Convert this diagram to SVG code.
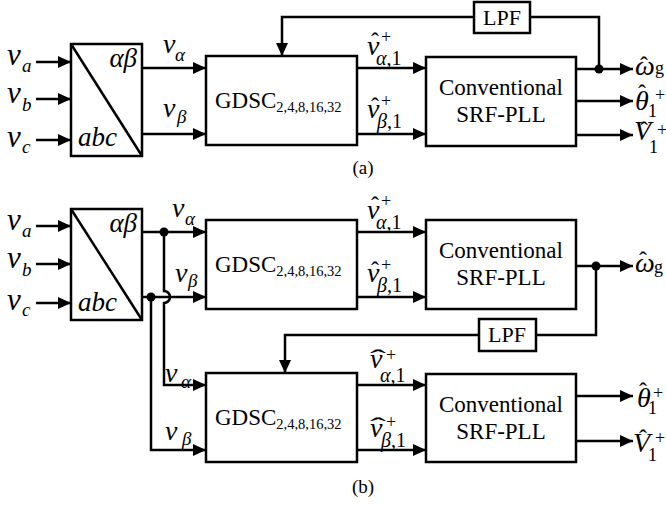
<svg xmlns="http://www.w3.org/2000/svg" width="666" height="505" viewBox="0 0 666 505">
<style>
text{font-family:"Liberation Serif","Times New Roman","DejaVu Serif",serif}
.box{fill:#fff;stroke:#000;stroke-width:2.5}
.ln{fill:none;stroke:#000;stroke-width:2.5}
.ar{fill:none;stroke:#000;stroke-width:2.5;marker-end:url(#ah)}
.it{font-style:italic}
.rm{font-style:normal}
.hat{font-size:24px;text-anchor:middle;font-style:normal}
.mid{text-anchor:middle}
</style>
<defs>
<marker id="ah" markerUnits="userSpaceOnUse" markerWidth="14" markerHeight="12" refX="13" refY="6" orient="auto">
<path d="M0,0 L13,6 L0,12 z" fill="#000"/>
</marker>
</defs>

<g id="connectors">
<path class="ar" d="M36,62 H71"/>
<path class="ar" d="M36,99 H71"/>
<path class="ar" d="M36,140 H71"/>
<path class="ar" d="M142,68 H206"/>
<path class="ar" d="M142,134 H206"/>
<path class="ar" d="M357,68 H426"/>
<path class="ar" d="M357,134 H426"/>
<path class="ar" d="M576,69 H633"/>
<path class="ar" d="M576,101 H633"/>
<path class="ar" d="M576,135 H633"/>
<path class="ln" d="M599,69 V17 H530"/>
<path class="ar" d="M474,17 H282 V56"/>
<circle cx="599" cy="69" r="4.5"/>
<path class="ar" d="M36,226 H71"/>
<path class="ar" d="M36,264 H71"/>
<path class="ar" d="M36,303 H71"/>
<path class="ar" d="M142,232 H206"/>
<path class="ar" d="M142,297 H206"/>
<path class="ar" d="M164,232 V291 A6,6 0 0 1 164,303 V385 H206"/>
<path class="ar" d="M151,297 V450 H206"/>
<circle cx="164" cy="232" r="4.5"/>
<circle cx="151" cy="297" r="4.5"/>
<path class="ar" d="M357,232 H426"/>
<path class="ar" d="M357,297 H426"/>
<path class="ar" d="M576,266 H633"/>
<circle cx="596" cy="266" r="4.5"/>
<path class="ln" d="M596,266 V335 H536"/>
<path class="ar" d="M479,335 H285 V373"/>
<path class="ar" d="M357,385 H426"/>
<path class="ar" d="M357,450 H426"/>
<path class="ar" d="M576,396 H633"/>
<path class="ar" d="M576,441 H633"/>
</g>

<g id="inputs-a">
<text class="it" x="7" y="65" font-size="31">v</text><text class="it" x="22" y="72" font-size="19">a</text>
<text class="it" x="7" y="103" font-size="31">v</text><text class="it" x="22" y="111" font-size="19">b</text>
<text class="it" x="7" y="147" font-size="31">v</text><text class="it" x="22" y="153" font-size="19">c</text>
</g>
<g id="transform-a">
<rect class="box" x="71" y="44" width="71" height="112"/>
<path class="ln" d="M71,44 L142,156"/>
<text class="it" x="137" y="67" font-size="27" text-anchor="end">αβ</text>
<text class="it" x="78" y="146" font-size="27">abc</text>
</g>
<g id="labels-a-in">
<text class="it" x="163" y="53" font-size="28">v</text><text class="it" x="175" y="61" font-size="19">α</text>
<text class="it" x="163" y="117" font-size="28">v</text><text class="it" x="177" y="123" font-size="19">β</text>
</g>
<g id="gdsc-a">
<rect class="box" x="206" y="56" width="151" height="89"/>
<text class="rm" x="215" y="108" font-size="23">GDSC<tspan font-size="14.5" dy="4">2,4,8,16,32</tspan></text>
</g>
<g id="labels-a-out">
<text class="it" x="367" y="55" font-size="28">v</text><text class="hat" x="375" y="49">ˆ</text>
<text class="rm" x="381" y="43" font-size="18">+</text>
<text class="it" x="376" y="65" font-size="20">α<tspan class="rm">,1</tspan></text>
<text class="it" x="367" y="118" font-size="28">v</text><text class="hat" x="375" y="114">ˆ</text>
<text class="rm" x="381" y="107" font-size="18">+</text>
<text class="it" x="377" y="128" font-size="20">β<tspan class="rm">,1</tspan></text>
</g>
<g id="pll-a">
<rect class="box" x="426" y="57" width="150" height="89"/>
<text class="rm mid" x="501" y="95" font-size="23">Conventional</text>
<text class="rm mid" x="501" y="122" font-size="23">SRF-PLL</text>
</g>
<g id="lpf-a">
<rect class="box" x="474" y="2" width="56" height="31"/>
<text class="rm mid" x="502" y="25" font-size="22">LPF</text>
</g>
<g id="outputs-a">
<text class="it" x="635" y="75" font-size="28">ω</text><text class="hat" x="644" y="73">ˆ</text>
<text class="rm" x="655" y="74" font-size="18">g</text>
<text class="it" x="635" y="110" font-size="28">θ</text><text class="hat" x="642" y="101">ˆ</text>
<text class="rm" x="655" y="101" font-size="18">+</text>
<text class="rm" x="648" y="117" font-size="18">1</text>
<text class="it" x="634" y="140" font-size="28">V</text><text class="hat" x="644" y="138">ˆ</text>
<text class="rm" x="657" y="136" font-size="18">+</text>
<text class="rm" x="649" y="153" font-size="18">1</text>
</g>
<text class="rm mid" x="363" y="174" font-size="19">(a)</text>

<g id="inputs-b">
<text class="it" x="7" y="230" font-size="31">v</text><text class="it" x="22" y="237" font-size="19">a</text>
<text class="it" x="7" y="268" font-size="31">v</text><text class="it" x="22" y="276" font-size="19">b</text>
<text class="it" x="7" y="310" font-size="31">v</text><text class="it" x="22" y="316" font-size="19">c</text>
</g>
<g id="transform-b">
<rect class="box" x="71" y="209" width="71" height="111"/>
<path class="ln" d="M71,209 L142,320"/>
<text class="it" x="137" y="232" font-size="27" text-anchor="end">αβ</text>
<text class="it" x="78" y="311" font-size="27">abc</text>
</g>
<g id="labels-b-in">
<text class="it" x="172" y="217" font-size="28">v</text><text class="it" x="185" y="225" font-size="19">α</text>
<text class="it" x="175" y="282" font-size="28">v</text><text class="it" x="188" y="287" font-size="19">β</text>
<text class="it" x="165" y="382" font-size="28">v</text><text class="it" x="181" y="388" font-size="19">α</text>
<text class="it" x="165" y="440" font-size="28">v</text><text class="it" x="182" y="445" font-size="19">β</text>
</g>
<g id="gdsc-b1">
<rect class="box" x="206" y="220" width="151" height="89"/>
<text class="rm" x="215" y="272" font-size="23">GDSC<tspan font-size="14.5" dy="4">2,4,8,16,32</tspan></text>
</g>
<g id="labels-b1-out">
<text class="it" x="367" y="219" font-size="28">v</text><text class="hat" x="375" y="213">ˆ</text>
<text class="rm" x="381" y="207" font-size="18">+</text>
<text class="it" x="376" y="229" font-size="20">α<tspan class="rm">,1</tspan></text>
<text class="it" x="367" y="282" font-size="28">v</text><text class="hat" x="375" y="278">ˆ</text>
<text class="rm" x="381" y="271" font-size="18">+</text>
<text class="it" x="377" y="292" font-size="20">β<tspan class="rm">,1</tspan></text>
</g>
<g id="pll-b1">
<rect class="box" x="426" y="220" width="150" height="89"/>
<text class="rm mid" x="501" y="258" font-size="23">Conventional</text>
<text class="rm mid" x="501" y="285" font-size="23">SRF-PLL</text>
</g>
<g id="outputs-b1">
<text class="it" x="635" y="272" font-size="28">ω</text><text class="hat" x="643" y="268">ˆ</text>
<text class="rm" x="654" y="273" font-size="18">g</text>
</g>
<g id="lpf-b">
<rect class="box" x="479" y="319" width="57" height="32"/>
<text class="rm mid" x="507" y="342" font-size="22">LPF</text>
</g>
<g id="gdsc-b2">
<rect class="box" x="206" y="373" width="151" height="89"/>
<text class="rm" x="215" y="425" font-size="23">GDSC<tspan font-size="14.5" dy="4">2,4,8,16,32</tspan></text>
</g>
<g id="labels-b2-out">
<text class="it" x="370" y="368" font-size="28">v</text>
<text class="hat" transform="translate(378,366) scale(2,1)">ˆ</text>
<text class="rm" x="386" y="361" font-size="18">+</text>
<text class="it" x="380" y="382" font-size="20">α<tspan class="rm">,1</tspan></text>
<text class="it" x="370" y="437" font-size="28">v</text>
<text class="hat" transform="translate(378,434) scale(2,1)">ˆ</text>
<text class="rm" x="386" y="428" font-size="18">+</text>
<text class="it" x="381" y="447" font-size="20">β<tspan class="rm">,1</tspan></text>
</g>
<g id="pll-b2">
<rect class="box" x="426" y="374" width="150" height="88"/>
<text class="rm mid" x="501" y="412" font-size="23">Conventional</text>
<text class="rm mid" x="501" y="439" font-size="23">SRF-PLL</text>
</g>
<g id="outputs-b2">
<text class="it" x="637" y="407" font-size="28">θ</text><text class="hat" x="643" y="399">ˆ</text>
<text class="rm" x="653" y="399" font-size="18">+</text>
<text class="rm" x="648" y="414" font-size="18">1</text>
<text class="it" x="633" y="452" font-size="28">V</text><text class="hat" x="643" y="446">ˆ</text>
<text class="rm" x="655" y="444" font-size="18">+</text>
<text class="rm" x="648" y="461" font-size="18">1</text>
</g>
<text class="rm mid" x="363" y="493" font-size="19">(b)</text>
</svg>
